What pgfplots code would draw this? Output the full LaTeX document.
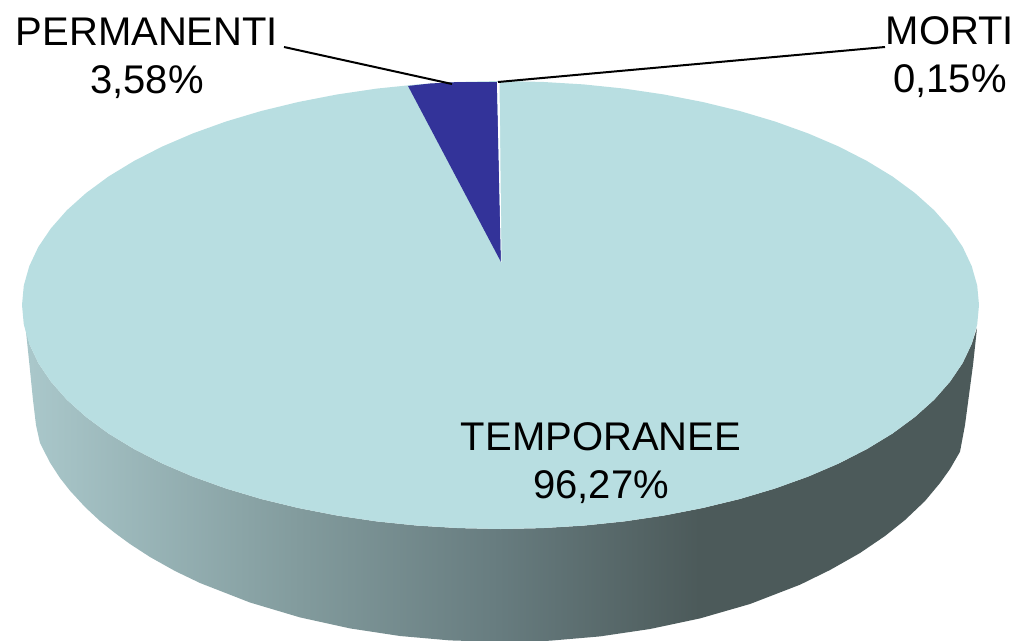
\documentclass[border=0pt]{standalone}
\usepackage{fontspec}
\setmainfont{Liberation Sans}
\usepackage{pgfplots}
\pgfplotsset{compat=1.18}
\definecolor{topc}{HTML}{B8DEE1}
\definecolor{wedge}{HTML}{333399}
\pgfdeclarehorizontalshading{sideshade}{100bp}{
  rgb(0bp)=(0.667,0.784,0.796);
  rgb(25bp)=(0.667,0.784,0.796);
  rgb(39.4bp)=(0.510,0.608,0.616);
  rgb(49.9bp)=(0.404,0.486,0.498);
  rgb(60.4bp)=(0.298,0.353,0.353);
  rgb(100bp)=(0.298,0.353,0.353)}
\begin{document}
\begin{tikzpicture}
\begin{axis}[
  scale only axis, width=1019pt, height=640pt,
  xmin=0, xmax=1019, ymin=0, ymax=640, y dir=reverse,
  axis line style={draw=none}, ticks=none, clip=true,
]
% side of the disc
\addplot[draw=none, shade, shading=sideshade] coordinates {
 (25,322) (29.3,343.9) (38.3,363) (50.9,381.6) (66.8,399.7) (86.1,417) (108.5,433.5) (134,449)
 (162.1,463.4) (192.9,476.6) (226,488.5) (261.2,499) (298.3,508) (336.9,515.5) (376.7,521.4)
 (417.4,525.6) (458.8,528.1) (500.5,529) (542.2,528.1) (583.6,525.6) (624.3,521.4) (664.1,515.5)
 (702.7,508) (739.8,499) (775,488.5) (808.1,476.6) (838.9,463.4) (867,449) (892.5,433.5)
 (914.9,417) (934.2,399.7) (950.1,381.6) (962.7,363) (971.7,343.9) (977,328)
 (973,365) (969,395) (965,425) (960,451.7) (950,469) (940,483) (925,501) (905,520) (885,536)
 (860,553) (830,570) (800,584.7) (750,604) (700,618.4) (650,629) (600,636.4) (550,640.7)
 (502,642) (450,640.4) (400,636) (350,628.4) (300,617.4) (250,602.5) (200,583) (175,571)
 (150,557) (130,544) (115,533) (100,521) (85,507) (70,490.7) (60,478) (50,462.6) (40,443)
 (36,425) (33,400) (30,370)
} --cycle;
% top of the disc: TEMPORANEE
\addplot[draw=none, fill=topc] coordinates {
 (979,305) (977.2,324.5) (971.7,343.9) (962.7,363) (950.1,381.6) (934.2,399.7) (914.9,417)
 (892.5,433.5) (867,449) (838.9,463.4) (808.1,476.6) (775,488.5) (739.8,499) (702.7,508)
 (664.1,515.5) (624.3,521.4) (583.6,525.6) (542.2,528.1) (500.5,529) (458.8,528.1) (417.4,525.6)
 (376.7,521.4) (336.9,515.5) (298.3,508) (261.2,499) (226,488.5) (192.9,476.6) (162.1,463.4)
 (134,449) (108.5,433.5) (86.1,417) (66.8,399.7) (50.9,381.6) (38.3,363) (29.3,343.9) (23.8,324.5)
 (22,305) (23.8,285.5) (29.3,266.1) (38.3,247) (50.9,228.4) (66.8,210.3) (86.1,193) (108.5,176.5)
 (134,161) (162.1,146.6) (192.9,133.4) (226,121.5) (261.2,111) (298.3,102) (336.9,94.5)
 (376.7,88.6) (417.4,84.4) (458.8,81.9) (500.5,81) (542.2,81.9) (583.6,84.4) (624.3,88.6)
 (664.1,94.5) (702.7,102) (739.8,111) (775,121.5) (808.1,133.4) (838.9,146.6) (867,161)
 (892.5,176.5) (914.9,193) (934.2,210.3) (950.1,228.4) (962.7,247) (971.7,266.1) (977.2,285.5)
} --cycle;
% PERMANENTI slice
\addplot[draw=none, fill=wedge] coordinates {
 (501,262) (408,86) (430,83.5) (458.8,82) (497,82)
} --cycle;
% MORTI slice
\addplot[draw=none, fill=white] coordinates {
 (501,262) (497,82) (499,81) (499.5,81) (501.5,262)
} --cycle;
% leader lines
\addplot[black, line width=2pt] coordinates {(284,47) (452,84)};
\addplot[black, line width=2pt] coordinates {(885,47) (498,82)};
% labels
\node[align=center, font=\fontsize{40}{48}\selectfont, inner sep=0pt] at (axis cs:147,58) {PERMANENTI\\3,58\%};
\node[align=center, font=\fontsize{40}{48}\selectfont, inner sep=0pt] at (axis cs:950,57) {MORTI\\0,15\%};
\node[align=center, font=\fontsize{40}{48}\selectfont, inner sep=0pt] at (axis cs:601,463) {TEMPORANEE\\96,27\%};
\end{axis}
\end{tikzpicture}
\end{document}
